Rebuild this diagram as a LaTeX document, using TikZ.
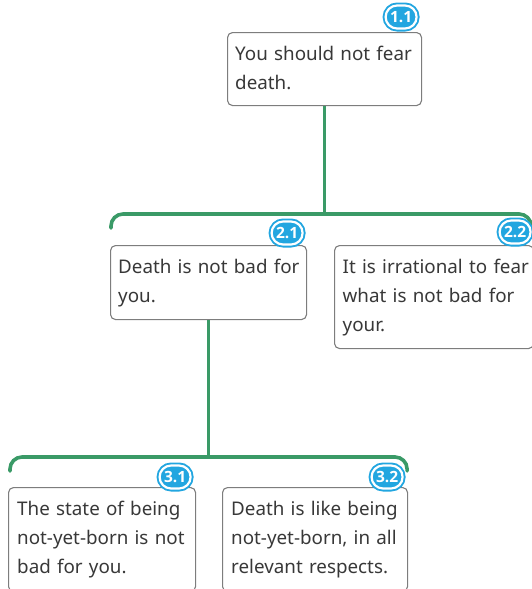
\documentclass[tikz,border=0pt]{standalone}
\usepackage{fontspec}
\setmainfont{Noto Sans}
\newfontfamily\badgefont{Open Sans}[BoldFont={Open Sans Bold}]
\usetikzlibrary{positioning}

\definecolor{branchgreen}{RGB}{58,154,103}
\definecolor{badgeblue}{RGB}{34,166,224}
\definecolor{cardline}{RGB}{125,125,125}
\definecolor{cardtext}{RGB}{56,56,56}

\tikzset{
  card/.style={draw=cardline, line width=1.1pt, rounded corners=5pt,
    fill=white, anchor=north west, inner sep=0pt},
  cardtxt/.style={anchor=north west, inner sep=0pt, text width=#1,
    align=left, text=cardtext,
    font=\fontsize{18.8}{29}\selectfont,
    execute at begin node={\noindent\rule{0pt}{14pt}}},
  badge/.style={rectangle, rounded corners=11.5pt, minimum width=31pt,
    minimum height=23pt, inner sep=0pt, fill=badgeblue, draw=white,
    line width=2.2pt, preaction={draw=badgeblue, line width=6pt},
    text=white, font=\badgefont\bfseries\fontsize{15.5}{15.5}\selectfont},
  branch/.style={draw=branchgreen, line width=3.6pt, rounded corners=12pt,
    line cap=round},
  stem/.style={draw=branchgreen, line width=3.6pt},
}

\begin{document}
\begin{tikzpicture}[x=1pt, y=-1pt]
  \useasboundingbox (0,0) rectangle (531,589);

  % claim cards
  \node[card, minimum width=194pt, minimum height=73pt] (b11) at (227,32) {};
  \node[card, minimum width=196pt, minimum height=74pt] (b21) at (110,245) {};
  \node[card, minimum width=199pt, minimum height=103pt] (b22) at (334,245) {};
  \node[card, minimum width=187pt, minimum height=104pt] (b31) at (8,487) {};
  \node[card, minimum width=185pt, minimum height=104pt] (b32) at (222,487) {};

  % card texts
  \node[cardtxt=185pt] (t11) at ([xshift=8pt,yshift=-14pt]b11.north west)
    {You should not fear\\death.};
  \node[cardtxt=185pt] (t21) at ([xshift=8pt,yshift=-14pt]b21.north west)
    {Death is not bad for\\you.};
  \node[cardtxt=195pt] (t22) at ([xshift=8.5pt,yshift=-14pt]b22.north west)
    {It is irrational to fear\\what is not bad for\\your.};
  \node[cardtxt=180pt] (t31) at ([xshift=9pt,yshift=-14pt]b31.north west)
    {The state of being\\not-yet-born is not\\bad for you.};
  \node[cardtxt=180pt] (t32) at ([xshift=9pt,yshift=-14pt]b32.north west)
    {Death is like being\\not-yet-born, in all\\relevant respects.};

  % junctions on the branch lines
  \coordinate (j1) at (b11.south |- 0,214);
  \coordinate (j2) at (b21.south |- 0,457);

  % stems and branches
  \draw[stem] (b11.south) -- (j1);
  \draw[branch] ([xshift=1pt,yshift=17pt]b21.north west) |- (j1)
    -| ([xshift=-3pt,yshift=17pt]b22.north east);
  \draw[stem] (b21.south) -- (j2);
  \draw[branch] ([xshift=2pt,yshift=16pt]b31.north west) |- (j2)
    -| ([xshift=-1pt,yshift=16pt]b32.north east);

  % numbered badges
  \node[badge] (n11) at ([xshift=-21pt,yshift=15pt]b11.north east) {1.1};
  \node[badge] (n21) at ([xshift=-20pt,yshift=12pt]b21.north east) {2.1};
  \node[badge] (n22) at ([xshift=-19pt,yshift=13pt]b22.north east) {2.2};
  \node[badge] (n31) at ([xshift=-21pt,yshift=10pt]b31.north east) {3.1};
  \node[badge] (n32) at ([xshift=-21pt,yshift=10pt]b32.north east) {3.2};
\end{tikzpicture}
\end{document}
